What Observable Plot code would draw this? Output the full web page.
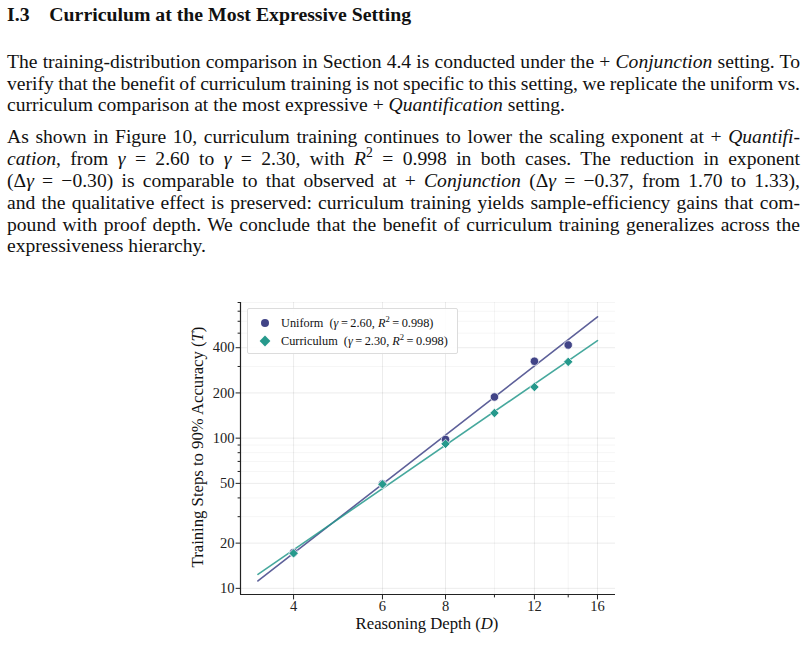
<!DOCTYPE html>
<html>
<head>
<meta charset="utf-8">
<script src="https://cdn.jsdelivr.net/npm/d3@7"></script>
<script src="https://cdn.jsdelivr.net/npm/@observablehq/plot@0.6"></script>
<style>
  html, body { margin: 0; padding: 0; background: #fff; }
  body { width: 808px; height: 656px; position: relative; overflow: hidden;
         font-family: "Liberation Serif", "DejaVu Serif", serif; color: #111; }
  .h { position: absolute; left: 7px; top: 3px; font-size: 19.8px; font-weight: bold; line-height: 22px; white-space: nowrap; }
  .ln { position: absolute; left: 7px; width: 793px; font-size: 19.6px; line-height: 21px; white-space: nowrap; }
  .j { text-align: justify; text-align-last: justify; word-spacing: -3px; }
  #chart { position: absolute; left: 180px; top: 290px; }
  .lab { position: absolute; font-size: 16.7px; white-space: nowrap; }
  #legend { position: absolute; left: 247px; top: 308px; width: 211px; height: 46px; box-sizing: border-box;
            border: 1px solid #dcdcdc; border-radius: 2px; background: rgba(255,255,255,0.9); font-size: 12.3px; }
  .lr { position: absolute; left: 0; white-space: nowrap; }
  .lr svg { position: absolute; left: 10px; top: 0; }
  .lr span { position: absolute; left: 33px; top: -1px; line-height: 16px; }
  sup { font-size: 70%; line-height: 0; }
  #chart svg text { font-family: "Liberation Serif", serif !important; font-size: 14.5px !important; }
</style>
</head>
<body>
<div class="h">I.3&nbsp;&nbsp;&nbsp;&nbsp;Curriculum at the Most Expressive Setting</div>

<div class="ln j" style="top:51px">The training-distribution comparison in Section 4.4 is conducted under the + <i>Conjunction</i> setting. To</div>
<div class="ln j" style="top:73px">verify that the benefit of curriculum training is not specific to this setting, we replicate the uniform vs.</div>
<div class="ln" style="top:94px">curriculum comparison at the most expressive + <i>Quantification</i> setting.</div>

<div class="ln j" style="top:126px">As shown in Figure 10, curriculum training continues to lower the scaling exponent at + <i>Quantifi-</i></div>
<div class="ln j" style="top:148px"><i>cation</i>, from <i>γ</i> = 2.60 to <i>γ</i> = 2.30, with <i>R</i><sup>2</sup> = 0.998 in both cases. The reduction in exponent</div>
<div class="ln j" style="top:170px">(Δ<i>γ</i> = −0.30) is comparable to that observed at + <i>Conjunction</i> (Δ<i>γ</i> = −0.37, from 1.70 to 1.33),</div>
<div class="ln j" style="top:192px">and the qualitative effect is preserved: curriculum training yields sample-efficiency gains that com-</div>
<div class="ln j" style="top:214px">pound with proof depth. We conclude that the benefit of curriculum training generalizes across the</div>
<div class="ln" style="top:235px">expressiveness hierarchy.</div>

<div id="chart"></div>

<div id="legend">
  <div class="lr" style="top:7px">
    <svg width="14" height="14"><circle cx="7" cy="7" r="4" fill="#414487"/></svg>
    <span>Uniform&nbsp; (<i>γ</i>&thinsp;=&thinsp;2.60, <i>R</i><sup>2</sup>&thinsp;=&thinsp;0.998)</span>
  </div>
  <div class="lr" style="top:25px">
    <svg width="14" height="14"><path d="M7,1.6 L12.4,7 L7,12.4 L1.6,7 Z" fill="#26998c"/></svg>
    <span>Curriculum&nbsp; (<i>γ</i>&thinsp;=&thinsp;2.30, <i>R</i><sup>2</sup>&thinsp;=&thinsp;0.998)</span>
  </div>
</div>

<div class="lab" style="left:427px; top:624px; transform:translate(-50%,-50%)">Reasoning Depth (<i>D</i>)</div>
<div class="lab" style="left:198px; top:447px; transform:translate(-50%,-50%) rotate(-90deg)">Training Steps to 90% Accuracy (<i>T</i>)</div>

<script>
// ---- data ----
const depths = [4, 6, 8, 10, 12, 14];
const uniformSteps = [17.3, 49.6, 98, 188, 325, 417];
const curriculumSteps = [17.1, 49.3, 91.6, 147, 219, 322];

// power-law fit lines (endpoints)
const fitDepths = [3.4, 16];
const uniformFit = [11.2, 642];
const curriculumFit = [12.4, 446];

const xTicks = [4, 6, 8, 12, 16];
const xMinorTicks = [10, 14];
const yTicks = [10, 20, 50, 100, 200, 400];
const yMinorTicks = [30, 40, 60, 70, 80, 90, 300, 500, 600, 700, 800];

const uniformColor = "#414487";
const curriculumColor = "#26998c";

const xDomain = [3.14, 17.37];
const yDomain = [9.1, 800];

const pts = (ys, name) => depths.map((d, i) => ({D: d, T: ys[i], s: name}));
const fit = (ys, name) => fitDepths.map((d, i) => ({D: d, T: ys[i], s: name}));

const uniformPts = pts(uniformSteps, "Uniform");
const curriculumPts = pts(curriculumSteps, "Curriculum");

// a plain tick stroke for vector marks
const tickShape = { draw(context, l) { context.moveTo(0, 0); context.lineTo(0, -l); } };

const yTickMarks = (vals, len) => Plot.vector(vals, { y: d => d, frameAnchor: "left", length: len, rotate: -90, anchor: "start", shape: tickShape, stroke: "#222", strokeWidth: 1 });
const xTickMarks = (vals, len) => Plot.vector(vals, { x: d => d, frameAnchor: "bottom", length: len, rotate: 180, anchor: "start", shape: tickShape, stroke: "#222", strokeWidth: 1 });

const chart = Plot.plot({
  width: 460,
  height: 350,
  marginLeft: 60,
  marginRight: 25,
  marginTop: 12,
  marginBottom: 46,
  style: { fontFamily: "Liberation Serif, serif", fontSize: "14.5px", color: "#222", background: "transparent" },
  x: { type: "log", domain: xDomain, axis: null },
  y: { type: "log", domain: yDomain, axis: null },
  marks: [
    Plot.gridY(yMinorTicks, { stroke: "#000", strokeOpacity: 0.04 }),
    Plot.gridY(yTicks, { stroke: "#000", strokeOpacity: 0.08 }),
    Plot.gridX(xMinorTicks, { stroke: "#000", strokeOpacity: 0.045 }),
    Plot.gridX(xTicks, { stroke: "#000", strokeOpacity: 0.08 }),
    Plot.line(fit(uniformFit, "Uniform"), { x: "D", y: "T", stroke: uniformColor, strokeWidth: 1.6, strokeOpacity: 0.85 }),
    Plot.line(fit(curriculumFit, "Curriculum"), { x: "D", y: "T", stroke: curriculumColor, strokeWidth: 1.6, strokeOpacity: 0.85 }),
    Plot.dot(uniformPts, { x: "D", y: "T", r: 4.2, fill: uniformColor, stroke: "#fff", strokeWidth: 0.7 }),
    Plot.dot(curriculumPts, { x: "D", y: "T", r: 4.2, symbol: "diamond2", fill: curriculumColor, stroke: "#fff", strokeWidth: 0.7 }),
    Plot.ruleX([xDomain[0]], { stroke: "#222", strokeWidth: 1.2 }),
    Plot.ruleY([yDomain[0]], { stroke: "#222", strokeWidth: 1.2 }),
    yTickMarks(yTicks, 4.5),
    yTickMarks(yMinorTicks, 2.5),
    xTickMarks(xTicks, 4.5),
    xTickMarks(xMinorTicks, 2.5),
    Plot.text(yTicks, { y: d => d, frameAnchor: "left", textAnchor: "end", dx: -6, text: d => String(d), fontSize: 14.5, fill: "#222" }),
    Plot.text(xTicks, { x: d => d, frameAnchor: "bottom", lineAnchor: "top", dy: 6, text: d => String(d), fontSize: 14.5, fill: "#222" })
  ]
});
document.getElementById("chart").appendChild(chart);
</script>
</body>
</html>
